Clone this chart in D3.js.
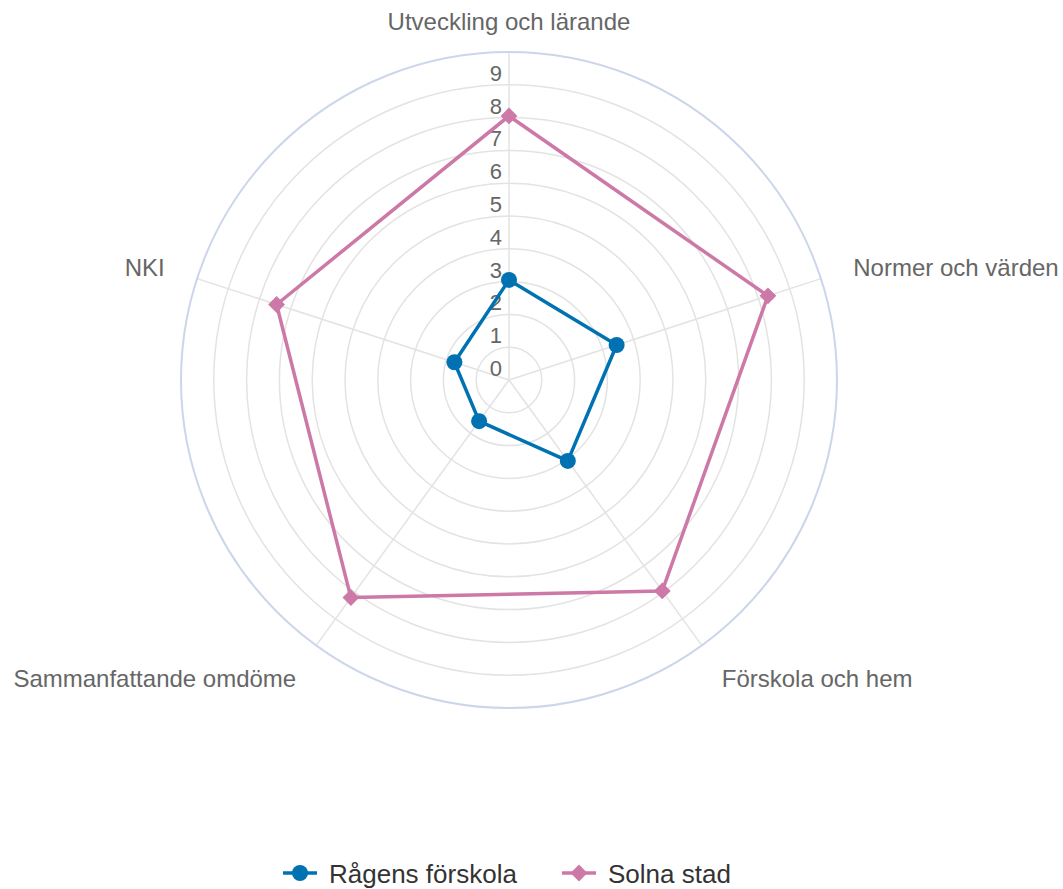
<!DOCTYPE html>
<html><head><meta charset="utf-8">
<script src="https://cdn.jsdelivr.net/npm/d3@7"></script>
<style>body{margin:0;background:#fff;font-family:"Liberation Sans",Arial,sans-serif}</style>
</head><body><svg id="c" width="1063" height="889"></svg>
<script>
const categories = ["Utveckling och lärande","Normer och värden","Förskola och hem","Sammanfattande omdöme","NKI"];
const ragensValues = [3.05, 3.45, 3.05, 1.55, 1.75];
const solnaValues = [8.05, 8.3, 7.95, 8.2, 7.45];
const tickValues = [0,1,2,3,4,5,6,7,8,9];
const seriesNames = ["Rågens förskola","Solna stad"];
const seriesColors = ["#0072B2","#CC79A7"];

const svg = d3.select("#c");
const cx = 509, cy = 380, R = 328;
const r = d3.scaleLinear().domain([0,10]).range([0,R]);
const ang = d3.scaleLinear().domain([0,categories.length]).range([0,2*Math.PI]);
const pt = (i,v) => [cx + r(v)*Math.sin(ang(i)), cy - r(v)*Math.cos(ang(i))];
const g = svg.append("g");

// grid circles
g.selectAll("circle.grid").data(d3.range(1,10)).join("circle")
 .attr("cx",cx).attr("cy",cy).attr("r",d=>r(d)).attr("fill","none").attr("stroke","#e3e3e3").attr("stroke-width",1.5);
// spokes
g.selectAll("line.spoke").data(categories).join("line")
 .attr("x1",cx).attr("y1",cy).attr("x2",(d,i)=>pt(i,10)[0]).attr("y2",(d,i)=>pt(i,10)[1])
 .attr("stroke","#e3e3e3").attr("stroke-width",1.5);
// outer pane
g.append("circle").attr("cx",cx).attr("cy",cy).attr("r",r(10)).attr("fill","none").attr("stroke","#ccd6eb").attr("stroke-width",2);

// tick labels
g.selectAll("text.tick").data(tickValues).join("text")
 .attr("x",cx-7).attr("y",d=>cy-r(d)-4).attr("text-anchor","end")
 .attr("font-size",22).attr("fill","#666").text(d=>d);

// category labels
categories.forEach((c,i)=>{
  const a = ang(i);
  const top = Math.abs(Math.sin(a))<0.01;
  const rr = top ? R+30 : R+34;
  const x = cx + rr*Math.sin(a), y = cy - rr*Math.cos(a);
  let anchor = top ? "middle" : (Math.sin(a)>0 ? "start":"end");
  let dy = Math.cos(a) < -0.1 ? 14 : 8;
  g.append("text").attr("x",x).attr("y",y+dy).attr("text-anchor",anchor)
   .attr("font-size",24).attr("fill","#666").text(c);
});

const line = d3.line();
const allSeries = [ragensValues, solnaValues];
allSeries.forEach((vals,s)=>{
  const pts = vals.map((v,i)=>pt(i,v));
  g.append("path").attr("d", line(pts)+"Z").attr("fill","none")
   .attr("stroke",seriesColors[s]).attr("stroke-width",3.5).attr("stroke-linejoin","round");
  pts.forEach(p=>{
    if (s===0) g.append("circle").attr("cx",p[0]).attr("cy",p[1]).attr("r",8).attr("fill",seriesColors[s]);
    else g.append("path").attr("transform",`translate(${p[0]},${p[1]})`)
      .attr("d",d3.symbol(d3.symbolDiamond2,180)()).attr("fill",seriesColors[s]);
  });
});

// legend
const legendX = [283, 562];
const lg = svg.append("g");
seriesNames.forEach((n,s)=>{
  const x0 = legendX[s], y0 = 873;
  lg.append("line").attr("x1",x0).attr("x2",x0+34).attr("y1",y0).attr("y2",y0)
    .attr("stroke",seriesColors[s]).attr("stroke-width",3.5);
  if (s===0) lg.append("circle").attr("cx",x0+17).attr("cy",y0).attr("r",8).attr("fill",seriesColors[s]);
  else lg.append("path").attr("transform",`translate(${x0+17},${y0})`)
     .attr("d",d3.symbol(d3.symbolDiamond2,180)()).attr("fill",seriesColors[s]);
  lg.append("text").attr("x",x0+46).attr("y",y0+9.5).attr("font-size",26).attr("fill","#333").text(n);
});
</script></body></html>
